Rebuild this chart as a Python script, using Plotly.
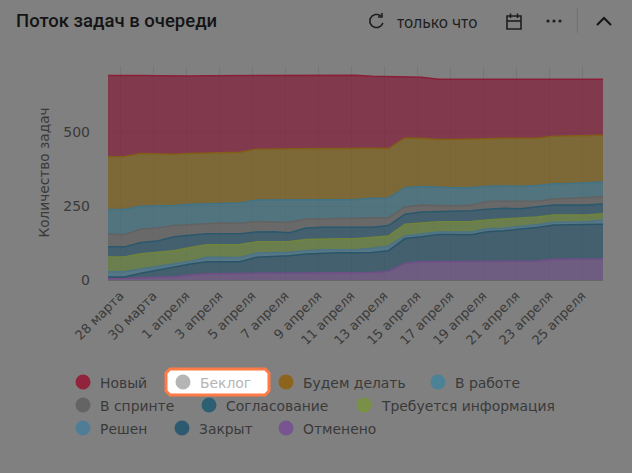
import plotly.graph_objects as go

# values per day
days = list(range(31))

novyi = [275,275,264,264,264,262,261,259,259,249,248,248,247,247,247,247,243,243,206,206,203,203,203,199,198,198,198,191,191,190,189]
budem_delat = [178,178,178,176,173,171,172,172,172,172,173,173,173,173,173,173,169,167,168,163,162,163,163,160,161,161,160,161,161,160,158]
v_rabote = [83,86,77,74,68,69,65,66,68,72,74,74,64,63,63,63,66,66,65,62,61,61,59,52,52,52,53,51,50,50,50]
v_sprinte = [43,41,45,44,38,35,36,37,36,36,33,35,30,30,30,32,32,27,25,24,20,19,19,26,24,24,20,21,23,25,24]
soglasovanie = [34,34,38,37,47,42,37,37,36,33,33,30,39,39,39,38,34,35,34,37,35,35,36,36,35,30,33,33,33,33,33]
trebuetsya = [50,50,52,50,46,47,42,42,44,38,37,36,38,37,37,37,37,34,39,38,35,35,36,30,32,29,26,25,24,23,21]
reshen = [18,18,14,11,10,9,15,15,14,14,14,12,11,11,10,10,14,16,9,9,8,8,9,10,9,10,10,9,10,11,15]
zakryt = [5,5,16,25,32,37,41,41,39,54,56,59,65,68,69,69,68,70,83,84,92,92,90,99,102,108,113,116,116,116,117]
otmeneno = [5,5,7,9,11,17,21,21,23,23,23,23,23,23,23,23,25,29,57,62,62,62,63,64,64,64,64,70,70,70,71]

tick_labels = ["28 марта", "30 марта", "1 апреля", "3 апреля", "5 апреля", "7 апреля", "9 апреля", "11 апреля",
               "13 апреля", "15 апреля", "17 апреля", "19 апреля", "21 апреля", "23 апреля", "25 апреля"]
y_ticks = [0, 250, 500]

# bottom of the stack goes first: name, values, line colour, fill colour
series = [
    ("Отменено", otmeneno, "rgb(112,78,135)", "rgba(105,80,130,0.75)"),
    ("Закрыт", zakryt, "rgb(42,85,105)", "rgba(48,86,104,0.75)"),
    ("Решен", reshen, "rgb(75,115,135)", "rgba(72,116,135,0.75)"),
    ("Требуется информация", trebuetsya, "rgb(112,132,62)", "rgba(100,125,60,0.75)"),
    ("Согласование", soglasovanie, "rgb(42,88,108)", "rgba(48,86,104,0.75)"),
    ("В спринте", v_sprinte, "rgb(98,98,98)", "rgba(98,98,98,0.75)"),
    ("В работе", v_rabote, "rgb(65,115,135)", "rgba(65,112,125,0.75)"),
    ("Будем делать", budem_delat, "rgb(130,95,25)", "rgba(124,98,32,0.75)"),
    ("Новый", novyi, "rgb(138,30,55)", "rgba(130,35,60,0.75)"),
]

W, H = 632, 473
LEFT, RIGHT, TOP, BOTTOM = 108, 603, 66, 280
BG = "#808080"
FONT = "DejaVu Sans"


def px(x):
    return (x - LEFT) / (RIGHT - LEFT)


def py(y):
    return (BOTTOM - y) / (BOTTOM - TOP)


def label(x, y, text, size=14, color="#3a3a3a", family=FONT, anchor="left", weight=None):
    font = dict(size=size, color=color, family=family)
    if weight:
        font["weight"] = weight
    return dict(x=px(x), y=py(y), xref="paper", yref="paper", text=text, showarrow=False,
                xanchor=anchor, yanchor="middle", font=font)


def path(d_points, close=False):
    d = "M" + " L".join(f"{px(a):.5f},{py(b):.5f}" for a, b in d_points)
    return d + (" Z" if close else "")


fig = go.Figure()
for name, values, line_color, fill_color in series:
    fig.add_trace(go.Scatter(
        x=days, y=values, name=name, mode="lines", stackgroup="one",
        line=dict(color=line_color, width=1.5),
        fillcolor=fill_color,
    ))

shapes = []
annotations = []

# header
annotations.append(label(14, 21, "Поток задач в очереди", size=18.5, color="#141414", family="Roboto", weight=500))
annotations.append(label(394.5, 22, "только что", size=15.5, color="#1e1e1e", family="Noto Sans"))
line_dark = dict(color="#1e1e1e", width=1.6)
# refresh icon
shapes.append(dict(type="path", xref="paper", yref="paper", line=line_dark,
                   path=path([(381, 16), (378, 14.5), (375, 14.5), (372, 16), (370, 19), (370, 23), (372, 26),
                              (375, 27.5), (378, 27.5), (381, 26), (383, 23)])))
shapes.append(dict(type="path", xref="paper", yref="paper", line=line_dark,
                   path=path([(382, 13), (382, 17), (378, 17)])))
# calendar icon
shapes.append(dict(type="path", xref="paper", yref="paper", line=line_dark,
                   path=path([(507, 16), (521, 16), (521, 29), (507, 29)], close=True)))
shapes.append(dict(type="path", xref="paper", yref="paper", line=line_dark,
                   path=path([(507, 21), (521, 21)])))
shapes.append(dict(type="path", xref="paper", yref="paper", line=line_dark, path=path([(510.5, 13.5), (510.5, 18)])))
shapes.append(dict(type="path", xref="paper", yref="paper", line=line_dark, path=path([(517.5, 13.5), (517.5, 18)])))
# three dots
for cx in (548, 554, 560):
    shapes.append(dict(type="circle", xref="paper", yref="paper", fillcolor="#1e1e1e", line_width=0,
                       x0=px(cx - 1.6), x1=px(cx + 1.6), y0=py(21 + 1.6), y1=py(21 - 1.6)))
shapes.append(dict(type="path", xref="paper", yref="paper", line=dict(color="#707070", width=1),
                   path=path([(577.5, 8), (577.5, 33)])))
shapes.append(dict(type="path", xref="paper", yref="paper", line=dict(color="#141414", width=2),
                   path=path([(597, 25), (604, 18), (611, 25)])))

# y axis title
annotations.append(dict(x=px(43), y=py(172.5), xref="paper", yref="paper", text="Количество задач", textangle=-90,
                        showarrow=False, xanchor="center", yanchor="middle",
                        font=dict(size=13.7, color="#3a3a3a", family=FONT)))

# highlighted legend item box
shapes.append(dict(type="path", xref="paper", yref="paper", fillcolor="#ffffff",
                   line=dict(color="#ff7a45", width=3),
                   path=path([(170, 369), (265, 369), (269, 373), (269, 391), (265, 395), (170, 395),
                              (166, 391), (166, 373)], close=True)))

# legend
legend_items = [
    ("Новый", 83, 382, "rgb(145,35,60)", "#3a3a3a"),
    ("Беклог", 183, 382, "#b5b5b5", "#b5b5b5"),
    ("Будем делать", 286, 382, "rgb(140,100,30)", "#3a3a3a"),
    ("В работе", 438, 382, "rgb(75,130,150)", "#3a3a3a"),
    ("В спринте", 83, 405, "rgb(100,100,100)", "#3a3a3a"),
    ("Согласование", 209, 405, "rgb(45,95,115)", "#3a3a3a"),
    ("Требуется информация", 364, 405, "rgb(120,145,70)", "#3a3a3a"),
    ("Решен", 83, 428, "rgb(80,125,150)", "#3a3a3a"),
    ("Закрыт", 182, 428, "rgb(45,90,110)", "#3a3a3a"),
    ("Отменено", 286, 428, "rgb(120,85,145)", "#3a3a3a"),
]
for text, cx, cy, color, text_color in legend_items:
    shapes.append(dict(type="circle", xref="paper", yref="paper", fillcolor=color, line_width=0,
                       x0=px(cx - 7.5), x1=px(cx + 7.5), y0=py(cy + 7.5), y1=py(cy - 7.5)))
    annotations.append(label(cx + 15, cy + 1, text, size=13.9, color=text_color))

fig.update_layout(
    width=W, height=H,
    margin=dict(l=LEFT, r=W - RIGHT, t=TOP, b=H - BOTTOM, autoexpand=False),
    paper_bgcolor=BG, plot_bgcolor=BG,
    showlegend=False,
    shapes=shapes,
    annotations=annotations,
    font=dict(family=FONT, size=14, color="#3a3a3a"),
    xaxis=dict(
        range=[0, 30], tickvals=[i * 2 + 0.73 for i in range(len(tick_labels))], ticktext=tick_labels,
        tickangle=-45, showgrid=True, gridcolor="#767676", gridwidth=1, zeroline=False,
        showline=True, linecolor="#686868", linewidth=1, ticks="", ticklabelstandoff=2,
        tickfont=dict(size=13, color="#3a3a3a"),
    ),
    yaxis=dict(
        range=[0, 723], tickvals=y_ticks, showgrid=True, gridcolor="#767676", gridwidth=1, zeroline=False,
        ticks="", ticklabelstandoff=17, tickfont=dict(size=14, color="#3a3a3a"),
    ),
)

# the page itself must not add a margin around the figure
fig.write_html("out.html", config={"displayModeBar": False},
               post_script="document.body.style.margin='0';document.body.style.background='#808080';")
